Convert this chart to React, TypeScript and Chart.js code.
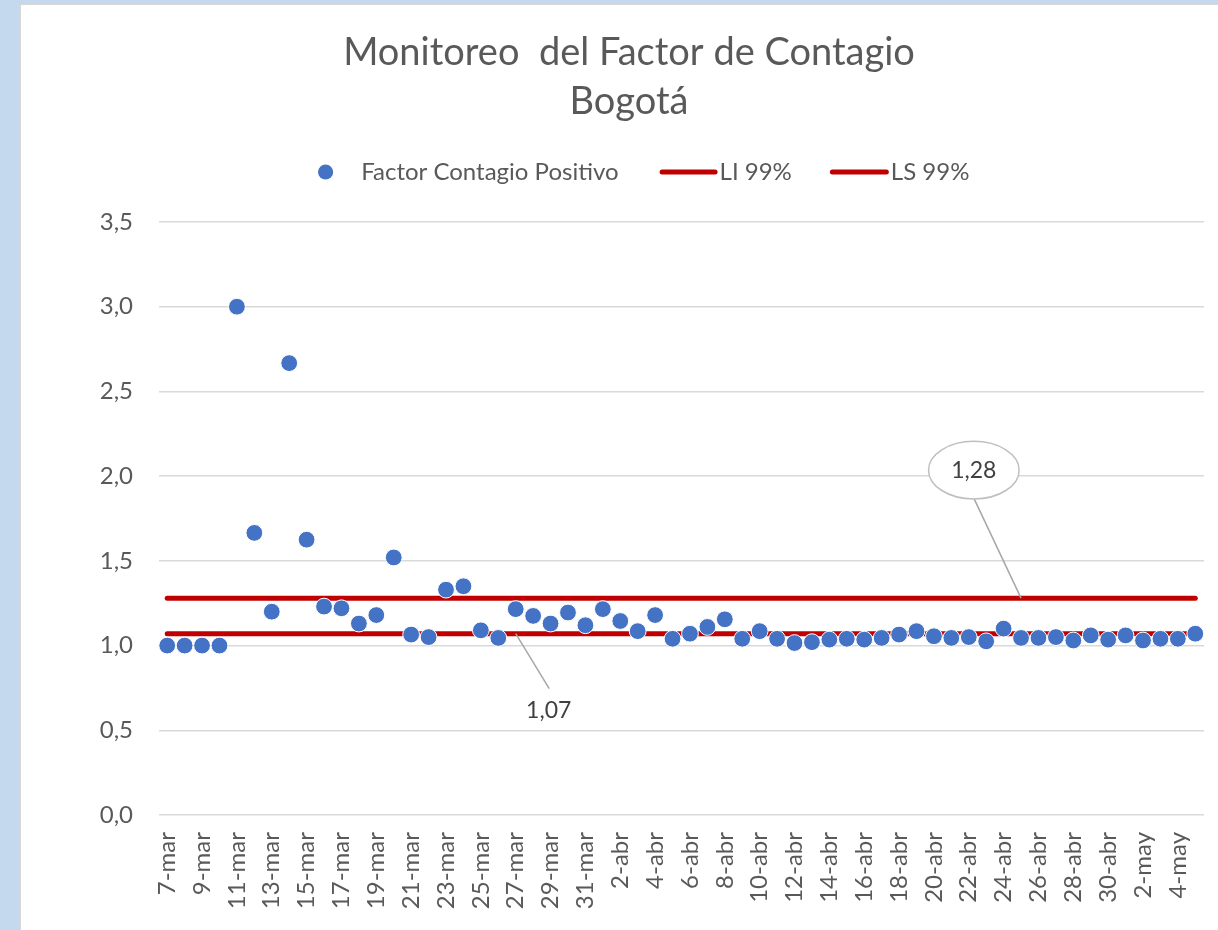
import React, { useEffect, useRef } from 'react';
import { Chart, registerables } from 'chart.js';

Chart.register(...registerables);

const FONT = 'Lato, "Open Sans", sans-serif';
const TEXT_COLOR = '#595959';

const titleLines = ['Monitoreo  del Factor de Contagio', 'Bogotá'];
const seriesNames = ['Factor Contagio Positivo', 'LI 99%', 'LS 99%'];

const dateLabels = [
  '7-mar', '8-mar', '9-mar', '10-mar', '11-mar', '12-mar', '13-mar', '14-mar', '15-mar', '16-mar',
  '17-mar', '18-mar', '19-mar', '20-mar', '21-mar', '22-mar', '23-mar', '24-mar', '25-mar', '26-mar',
  '27-mar', '28-mar', '29-mar', '30-mar', '31-mar', '1-abr', '2-abr', '3-abr', '4-abr', '5-abr',
  '6-abr', '7-abr', '8-abr', '9-abr', '10-abr', '11-abr', '12-abr', '13-abr', '14-abr', '15-abr',
  '16-abr', '17-abr', '18-abr', '19-abr', '20-abr', '21-abr', '22-abr', '23-abr', '24-abr', '25-abr',
  '26-abr', '27-abr', '28-abr', '29-abr', '30-abr', '1-may', '2-may', '3-may', '4-may', '5-may',
];

const factorContagio = [
  1.00, 1.00, 1.00, 1.00, 3.00, 1.665, 1.20, 2.667, 1.625, 1.23,
  1.22, 1.13, 1.18, 1.52, 1.065, 1.05, 1.33, 1.35, 1.09, 1.045,
  1.215, 1.175, 1.13, 1.195, 1.12, 1.215, 1.145, 1.085, 1.18, 1.04,
  1.07, 1.11, 1.155, 1.04, 1.085, 1.04, 1.015, 1.02, 1.035, 1.04,
  1.035, 1.045, 1.065, 1.085, 1.055, 1.045, 1.05, 1.025, 1.10, 1.045,
  1.045, 1.05, 1.03, 1.06, 1.035, 1.06, 1.03, 1.04, 1.04, 1.07,
];

const limiteInferior = 1.07;
const limiteSuperior = 1.28;

const yMin = 0;
const yMax = 3.5;
const yStep = 0.5;

// callouts: category index where the leader line touches the limit line
const calloutIndex = [20, 49];
const calloutText = ['1,07', '1,28'];

const legendPlugin = {
  id: 'customLegend',
  afterDraw(chart: any) {
    const ctx = chart.ctx;
    const ds = chart.data.datasets;
    ctx.save();
    ctx.font = `24px ${FONT}`;
    ctx.textBaseline = 'middle';
    ctx.fillStyle = TEXT_COLOR;
    const y = 172;
    const w0 = ctx.measureText(ds[0].label).width;
    const w1 = ctx.measureText(ds[1].label).width;
    const w2 = ctx.measureText(ds[2].label).width;
    const total = 15.2 + 28 + w0 + 41 + 58 + 2 + w1 + 38 + 59 + 2 + w2;
    let x = 643.7 - total / 2;
    ctx.beginPath();
    ctx.arc(x + 7.6, y, 7.6, 0, Math.PI * 2);
    ctx.fillStyle = ds[0].pointBackgroundColor;
    ctx.fill();
    x += 15.2 + 28;
    ctx.fillStyle = TEXT_COLOR;
    ctx.textAlign = 'left';
    ctx.fillText(ds[0].label, x, y);
    x += w0 + 41;
    const drawLine = (len: number, color: string) => {
      ctx.beginPath();
      ctx.moveTo(x + 2.5, y);
      ctx.lineTo(x + len - 2.5, y);
      ctx.strokeStyle = color;
      ctx.lineWidth = 5;
      ctx.lineCap = 'round';
      ctx.stroke();
    };
    drawLine(58, ds[1].borderColor);
    x += 58 + 2;
    ctx.fillStyle = TEXT_COLOR;
    ctx.fillText(ds[1].label, x, y);
    x += w1 + 38;
    drawLine(59, ds[2].borderColor);
    x += 59 + 2;
    ctx.fillStyle = TEXT_COLOR;
    ctx.fillText(ds[2].label, x, y);
    ctx.restore();
  },
};

const calloutPlugin = {
  id: 'callouts',
  afterDatasetsDraw(chart: any) {
    const ctx = chart.ctx;
    const xs = chart.scales.x;
    const ys = chart.scales.y;
    ctx.save();
    const ax = xs.getPixelForValue(calloutIndex[0]);
    const ay = ys.getPixelForValue(limiteInferior);
    ctx.strokeStyle = '#A6A6A6';
    ctx.lineWidth = 1.5;
    ctx.beginPath();
    ctx.moveTo(ax, ay);
    ctx.lineTo(ax + 33.5, ay + 55);
    ctx.stroke();
    ctx.font = `23px ${FONT}`;
    ctx.fillStyle = '#404040';
    ctx.textAlign = 'center';
    ctx.textBaseline = 'middle';
    ctx.fillText(calloutText[0], ax + 33, ay + 77);

    const bx = xs.getPixelForValue(calloutIndex[1]);
    const by = ys.getPixelForValue(limiteSuperior);
    ctx.beginPath();
    ctx.moveTo(bx, by);
    ctx.lineTo(bx - 47, by - 99.5);
    ctx.stroke();
    const cx = bx - 47.2;
    const cy = by - 128;
    ctx.beginPath();
    ctx.ellipse(cx, cy, 45.3, 28.8, 0, 0, Math.PI * 2);
    ctx.fillStyle = '#FFFFFF';
    ctx.fill();
    ctx.strokeStyle = '#BFBFBF';
    ctx.lineWidth = 1.5;
    ctx.stroke();
    ctx.fillStyle = '#404040';
    ctx.fillText(calloutText[1], cx, cy);
    ctx.restore();
  },
};

export default function App() {
  const ref = useRef<HTMLCanvasElement | null>(null);

  useEffect(() => {
    if (!ref.current) return;
    const last = dateLabels[dateLabels.length - 1];
    const first = dateLabels[0];
    const chart = new Chart(ref.current, {
      type: 'line',
      data: {
        labels: dateLabels,
        datasets: [
          {
            label: seriesNames[0],
            data: factorContagio,
            showLine: false,
            pointRadius: 8.4,
            pointHoverRadius: 8.4,
            pointBackgroundColor: '#4472C4',
            pointBorderColor: '#FFFFFF',
            pointBorderWidth: 1,
            borderColor: '#4472C4',
            backgroundColor: '#4472C4',
            order: 0,
          } as any,
          {
            label: seriesNames[1],
            data: [
              { x: first, y: limiteInferior },
              { x: last, y: limiteInferior },
            ],
            borderColor: '#C00000',
            backgroundColor: '#C00000',
            borderWidth: 5,
            borderCapStyle: 'round',
            pointRadius: 0,
            pointHoverRadius: 0,
            order: 1,
          } as any,
          {
            label: seriesNames[2],
            data: [
              { x: first, y: limiteSuperior },
              { x: last, y: limiteSuperior },
            ],
            borderColor: '#C00000',
            backgroundColor: '#C00000',
            borderWidth: 5,
            borderCapStyle: 'round',
            pointRadius: 0,
            pointHoverRadius: 0,
            order: 1,
          } as any,
        ],
      },
      options: {
        responsive: false,
        animation: false,
        devicePixelRatio: 1,
        layout: { padding: { left: 54, right: 14, top: 0, bottom: 0 } },
        plugins: {
          legend: { display: false },
          tooltip: { enabled: false },
          title: {
            display: true,
            text: titleLines,
            color: TEXT_COLOR,
            font: { family: FONT, size: 38, weight: 'normal', lineHeight: '49px' } as any,
            padding: { top: 28, bottom: 96 },
          },
        },
        scales: {
          x: {
            type: 'category',
            offset: true,
            grid: { display: false, drawTicks: false },
            border: { display: false },
            ticks: {
              autoSkip: false,
              minRotation: 90,
              maxRotation: 90,
              padding: 17,
              color: TEXT_COLOR,
              font: { family: FONT, size: 24 },
              callback: (_v: any, i: number) => (i % 2 === 0 ? dateLabels[i] : ''),
            },
            afterFit: (s: any) => {
              s.height = 115;
              s.paddingLeft = 0;
              s.paddingRight = 0;
            },
          },
          y: {
            min: yMin,
            max: yMax,
            grid: { color: '#D9D9D9', lineWidth: 1.5, drawTicks: false },
            border: { display: false },
            ticks: {
              stepSize: yStep,
              padding: 25.5,
              color: TEXT_COLOR,
              font: { family: FONT, size: 24 },
              callback: (v: any) => Number(v).toFixed(1).replace('.', ','),
            },
            afterFit: (s: any) => {
              s.width = 104.5;
              s.paddingTop = 0;
              s.paddingBottom = 0;
            },
          },
        },
      },
      plugins: [legendPlugin, calloutPlugin],
    });
    return () => chart.destroy();
  }, []);

  return (
    <div
      style={{
        position: 'fixed',
        left: 0,
        top: 0,
        width: 1218,
        height: 930,
        overflow: 'hidden',
        background: '#C5D9EE',
      }}
    >
      <div
        style={{
          position: 'absolute',
          left: 20,
          top: 4,
          width: 1200,
          height: 930,
          background: '#FFFFFF',
          borderLeft: '1.5px solid #D6D6D6',
          borderTop: '1.5px solid #D6D6D6',
          boxSizing: 'border-box',
        }}
      />
      <canvas
        ref={ref}
        width={1218}
        height={930}
        style={{ position: 'absolute', left: 0, top: 0, width: 1218, height: 930 }}
      />
    </div>
  );
}
